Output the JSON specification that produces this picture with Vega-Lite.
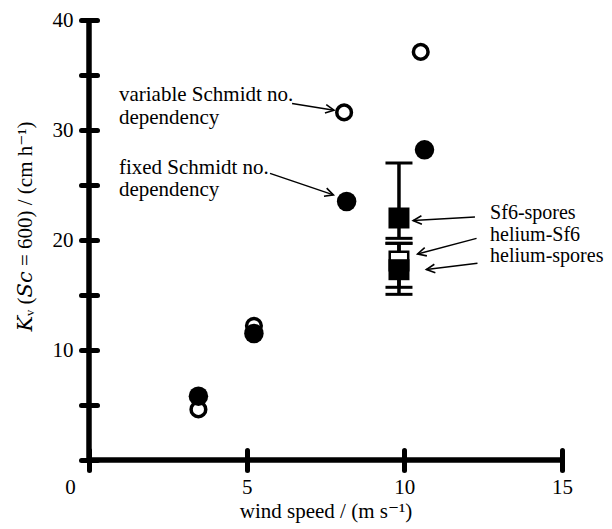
{
  "$schema": "https://vega.github.io/schema/vega-lite/v6.json",
  "width": 473,
  "height": 440,
  "autosize": {"type": "none"},
  "padding": {"left": 89, "top": 20, "right": 50, "bottom": 69},
  "config": {
    "view": {"stroke": null},
    "font": "Liberation Serif, DejaVu Serif, serif",
    "text": {"font": "Liberation Serif, DejaVu Serif, serif"},
    "axis": {"labelFont": "Liberation Serif, DejaVu Serif, serif", "titleFont": "Liberation Serif, DejaVu Serif, serif"}
  },
  "datasets": {
    "frame": [
      {"x": 0, "y": 0, "x2": 0, "y2": 40},
      {"x": 0, "y": 0, "x2": 15, "y2": 0}
    ],
    "circles": [
      {"x": 3.47, "y": 4.6, "kind": "variable Schmidt no. dependency"},
      {"x": 5.23, "y": 12.2, "kind": "variable Schmidt no. dependency"},
      {"x": 8.09, "y": 31.6, "kind": "variable Schmidt no. dependency"},
      {"x": 10.52, "y": 37.1, "kind": "variable Schmidt no. dependency"},
      {"x": 3.47, "y": 5.8, "kind": "fixed Schmidt no. dependency"},
      {"x": 5.23, "y": 11.5, "kind": "fixed Schmidt no. dependency"},
      {"x": 8.17, "y": 23.5, "kind": "fixed Schmidt no. dependency"},
      {"x": 10.64, "y": 28.2, "kind": "fixed Schmidt no. dependency"}
    ],
    "pairs": [
      {"pair": "Sf6-spores", "x": 9.83, "y": 22.0, "lo": 20.15, "hi": 27.0, "open": false},
      {"pair": "helium-Sf6", "x": 9.83, "y": 18.1, "lo": 15.7, "hi": 19.7, "open": true},
      {"pair": "helium-spores", "x": 9.83, "y": 17.3, "lo": 15.06, "hi": 19.7, "open": false}
    ],
    "notes": [
      {"x": 0.95, "y": 32.64, "text": "variable Schmidt no.", "side": "left"},
      {"x": 0.95, "y": 30.55, "text": "dependency", "side": "left"},
      {"x": 0.95, "y": 26.0, "text": "fixed Schmidt no.", "side": "left"},
      {"x": 0.95, "y": 24.0, "text": "dependency", "side": "left"},
      {"x": 12.72, "y": 21.95, "text": "Sf6-spores", "side": "right"},
      {"x": 12.72, "y": 19.95, "text": "helium-Sf6", "side": "right"},
      {"x": 12.72, "y": 18.0, "text": "helium-spores", "side": "right"}
    ],
    "arrows": [
      {"x": 6.44, "y": 32.4, "x2": 7.77, "y2": 31.8},
      {"x": 5.74, "y": 26.06, "x2": 7.75, "y2": 24.1},
      {"x": 12.24, "y": 22.09, "x2": 10.28, "y2": 21.77},
      {"x": 12.29, "y": 20.15, "x2": 10.42, "y2": 18.73},
      {"x": 12.32, "y": 17.88, "x2": 10.7, "y2": 17.32}
    ]
  },
  "encoding": {
    "x": {
      "field": "x",
      "type": "quantitative",
      "scale": {"domain": [0, 15], "nice": false, "zero": false},
      "axis": {
        "title": "wind speed / (m s⁻¹)",
        "values": [0, 5, 10, 15],
        "offset": -10,
        "domain": false,
        "grid": false,
        "tickSize": 20,
        "tickWidth": 5,
        "tickCap": "round",
        "tickColor": "black",
        "labelFont": "Liberation Serif, DejaVu Serif, serif",
        "labelFontSize": 21,
        "labelColor": "black",
        "labelBaseline": "alphabetic",
        "labelPadding": 23,
        "labelFlush": false,
        "labelOverlap": false,
        "labelOffset": {"condition": {"test": "datum.value === 0", "value": -19}, "value": 0},
        "titleFont": "Liberation Serif, DejaVu Serif, serif",
        "titleFontSize": 21,
        "titleFontWeight": "normal",
        "titleColor": "black",
        "titleBaseline": "alphabetic",
        "titleY": 67
      }
    },
    "y": {
      "field": "y",
      "type": "quantitative",
      "scale": {"domain": [0, 40], "nice": false, "zero": false},
      "axis": {
        "title": "𝐾ᵥ (𝑆𝑐 = 600) / (cm h⁻¹)",
        "values": [0, 5, 10, 15, 20, 25, 30, 35, 40],
        "labelExpr": "datum.value > 0 && datum.value % 10 === 0 ? datum.label : ''",
        "offset": -8,
        "domain": false,
        "grid": false,
        "tickSize": 16,
        "tickWidth": 5,
        "tickCap": "round",
        "tickColor": "black",
        "labelFont": "Liberation Serif, DejaVu Serif, serif",
        "labelFontSize": 21,
        "labelColor": "black",
        "labelPadding": 8,
        "labelFlush": false,
        "labelOverlap": false,
        "titleFont": "Liberation Serif, DejaVu Serif, serif",
        "titleFontSize": 21,
        "titleFontWeight": "normal",
        "titleColor": "black",
        "titleBaseline": "middle",
        "titleX": -72,
        "titleY": 206
      }
    }
  },
  "layer": [
    {
      "data": {"name": "frame"},
      "mark": {"type": "rule", "color": "black", "strokeWidth": 5.5},
      "encoding": {"x2": {"field": "x2"}, "y2": {"field": "y2"}}
    },
    {
      "data": {"name": "pairs"},
      "mark": {"type": "rule", "color": "black", "strokeWidth": 3.5},
      "encoding": {"y": {"field": "lo", "type": "quantitative"}, "y2": {"field": "hi"}}
    },
    {
      "data": {"name": "pairs"},
      "mark": {"type": "tick", "orient": "horizontal", "color": "black", "size": 27, "thickness": 3, "opacity": 1},
      "encoding": {"y": {"field": "lo", "type": "quantitative"}}
    },
    {
      "data": {"name": "pairs"},
      "mark": {"type": "tick", "orient": "horizontal", "color": "black", "size": 27, "thickness": 3, "opacity": 1},
      "encoding": {"y": {"field": "hi", "type": "quantitative"}}
    },
    {
      "data": {"name": "pairs"},
      "transform": [{"filter": "datum.open"}],
      "mark": {"type": "point", "shape": "square", "filled": true, "fill": "white", "stroke": "black", "strokeWidth": 2.5, "size": 342, "opacity": 1}
    },
    {
      "data": {"name": "pairs"},
      "transform": [{"filter": "!datum.open"}],
      "mark": {"type": "point", "shape": "square", "filled": true, "color": "black", "size": 441, "opacity": 1}
    },
    {
      "data": {"name": "circles"},
      "transform": [{"filter": "datum.kind === 'variable Schmidt no. dependency'"}],
      "mark": {"type": "point", "shape": "circle", "filled": false, "stroke": "black", "strokeWidth": 3.5, "size": 215, "opacity": 1}
    },
    {
      "data": {"name": "circles"},
      "transform": [{"filter": "datum.kind === 'fixed Schmidt no. dependency'"}],
      "mark": {"type": "point", "shape": "circle", "filled": true, "color": "black", "size": 380, "opacity": 1}
    },
    {
      "data": {"name": "arrows"},
      "mark": {"type": "rule", "color": "black", "strokeWidth": 1.5},
      "encoding": {"x2": {"field": "x2"}, "y2": {"field": "y2"}}
    },
    {
      "data": {"name": "arrows"},
      "transform": [{"calculate": "atan2((datum.y - datum.y2) * 11, (datum.x2 - datum.x) * 31.53) * 180 / PI", "as": "ang"}],
      "mark": {"type": "point", "shape": "M -1 -0.5 L 0 0 L -1 0.5", "filled": false, "stroke": "black", "strokeWidth": 1.6, "size": 289, "opacity": 1},
      "encoding": {
        "x": {"field": "x2", "type": "quantitative"},
        "y": {"field": "y2", "type": "quantitative"},
        "angle": {"field": "ang", "type": "quantitative", "scale": null}
      }
    },
    {
      "data": {"name": "notes"},
      "transform": [{"filter": "datum.side === 'left'"}],
      "mark": {"type": "text", "align": "left", "baseline": "alphabetic", "font": "Liberation Serif, DejaVu Serif, serif", "fontSize": 21, "color": "black"},
      "encoding": {"text": {"field": "text"}}
    },
    {
      "data": {"name": "notes"},
      "transform": [{"filter": "datum.side === 'right'"}],
      "mark": {"type": "text", "align": "left", "baseline": "alphabetic", "font": "Liberation Serif, DejaVu Serif, serif", "fontSize": 20, "color": "black"},
      "encoding": {"text": {"field": "text"}}
    }
  ]
}
